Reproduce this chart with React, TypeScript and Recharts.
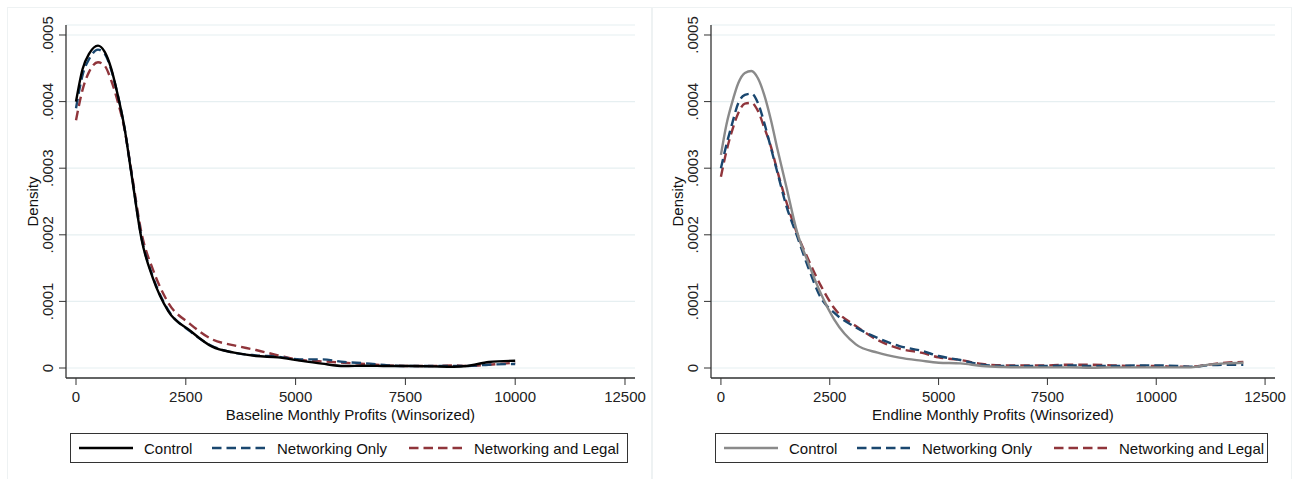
import { LineChart, Line, XAxis, YAxis, CartesianGrid, Label } from 'recharts';

// Kernel densities of monthly profits
const xTicks = [0, 2500, 5000, 7500, 10000, 12500];
const yTicks = [0, 0.0001, 0.0002, 0.0003, 0.0004, 0.0005];
const seriesNames = ['Control', 'Networking Only', 'Networking and Legal'];

const baselineProfit = [0, 150, 300, 500, 650, 800, 950, 1100, 1250, 1500, 1750, 2100, 2600, 3100, 3600, 4100, 4600, 5100, 5600, 6100, 6600, 7100, 7600, 8100, 8600, 8900, 9400, 10000];
const baselineControl = [0.0004, 0.000449, 0.000472, 0.000484, 0.000475, 0.00045, 0.00041, 0.000362, 0.000297, 0.000191, 0.000135, 0.0000855, 0.000056, 0.000032, 0.000023, 0.000018, 0.000016, 0.000011, 0.0000065, 0.000003, 0.0000035, 0.000003, 0.000003, 0.0000025, 0.000002, 0.000003, 0.000009, 0.000011];
const baselineNetOnly = [0.00039, 0.00044, 0.000464, 0.000478, 0.000472, 0.000448, 0.00041, 0.000362, 0.000298, 0.000193, 0.000137, 0.000087, 0.000055, 0.000033, 0.000023, 0.000019, 0.000017, 0.000013, 0.000013, 0.000009, 0.000007, 0.000004, 0.000003, 0.000003, 0.000003, 0.000003, 0.000005, 0.000006];
const baselineNetLegal = [0.000372, 0.000418, 0.000445, 0.000459, 0.000454, 0.000432, 0.0004, 0.00036, 0.0003, 0.0002, 0.000148, 0.000098, 0.000066, 0.000043, 0.000034, 0.000027, 0.000019, 0.000012, 0.00001, 0.000008, 0.000006, 0.000004, 0.000003, 0.000003, 0.000004, 0.000003, 0.000005, 0.000008];

const endlineProfit = [0, 125, 250, 400, 550, 700, 850, 1000, 1150, 1300, 1500, 1750, 2000, 2300, 2600, 3100, 3600, 4100, 4600, 5000, 5500, 6000, 6500, 7000, 7500, 8000, 8500, 9000, 9500, 10000, 10500, 10800, 11200, 11600, 12000];
const endlineControl = [0.00032, 0.000365, 0.000397, 0.000428, 0.000443, 0.000446, 0.000435, 0.000409, 0.000372, 0.000328, 0.000273, 0.000204, 0.000159, 0.000111, 0.000073, 0.0000355, 0.000023, 0.0000155, 0.000011, 0.000008, 0.000007, 0.000003, 0.0000015, 0.000001, 0.000001, 0.000001, 0.0000005, 0.000001, 0.000001, 0.000001, 0.000001, 0.000001, 0.000005, 0.000007, 0.000008];
const endlineNetOnly = [0.0003, 0.000335, 0.000365, 0.000398, 0.00041, 0.000412, 0.000398, 0.000367, 0.00033, 0.000293, 0.000244, 0.000198, 0.000152, 0.000105, 0.000083, 0.000061, 0.000045, 0.000033, 0.000026, 0.000018, 0.000012, 0.000005, 0.000003, 0.000003, 0.000003, 0.000004, 0.000003, 0.000003, 0.000004, 0.000004, 0.000003, 0.000002, 0.000004, 0.000005, 0.000005];
const endlineNetLegal = [0.000287, 0.000325, 0.000355, 0.000383, 0.000397, 0.000398, 0.000386, 0.00036, 0.000332, 0.000295, 0.00025, 0.000202, 0.000164, 0.000123, 0.00009, 0.000063, 0.000042, 0.000029, 0.000023, 0.000016, 0.000012, 0.000006, 0.000004, 0.000004, 0.000004, 0.000005, 0.000005, 0.000004, 0.000003, 0.000003, 0.000002, 0.000002, 0.000005, 0.000008, 0.000009];

const NAVY = '#1a476f';
const MAROON = '#90353b';
const AXIS = '#333';
const FONT = '"Liberation Sans", Arial, sans-serif';

const toRows = (xs: number[], a: number[], b: number[], c: number[]) =>
  xs.map((x, i) => ({ profit: x, control: a[i], netOnly: b[i], netLegal: c[i] }));

const fmtDensity = (v: number) => (v === 0 ? '0' : v.toFixed(4).replace(/^0/, ''));

function YTick(props: any) {
  const { x, y, payload } = props;
  return (
    <text x={x} y={y} transform={`rotate(-90 ${x} ${y})`} textAnchor="middle" fill="#222" fontSize={15} fontFamily={FONT}>
      {fmtDensity(payload.value)}
    </text>
  );
}

function LegendBox({ left, width, controlColor }: { left: number; width: number; controlColor: string }) {
  const items = [
    { name: seriesNames[0], color: controlColor, dash: undefined, w: 133 },
    { name: seriesNames[1], color: NAVY, dash: '9.5 5', w: 197 },
    { name: seriesNames[2], color: MAROON, dash: '9.5 5', w: 0 },
  ];
  return (
    <div style={{
      position: 'absolute', left, top: 433, width, height: 30, boxSizing: 'border-box',
      border: `1.5px solid ${AXIS}`, background: '#fff', display: 'flex', alignItems: 'center', paddingLeft: 8,
    }}>
      {items.map((it) => (
        <div key={it.name} style={{ display: 'flex', alignItems: 'center', width: it.w || undefined, flexShrink: 0 }}>
          <svg width={54} height={6} style={{ display: 'block' }}>
            <line x1={0} y1={3} x2={54} y2={3} stroke={it.color} strokeWidth={2.4} strokeDasharray={it.dash} />
          </svg>
          <span style={{ marginLeft: 11, fontSize: 15, color: '#111', fontFamily: FONT, whiteSpace: 'nowrap' }}>{it.name}</span>
        </div>
      ))}
    </div>
  );
}

function DensityPanel({ rows, xTitle, controlColor, width, rightMargin }: { rows: any[]; xTitle: string; controlColor: string; width: number; rightMargin: number }) {
  return (
    <LineChart width={width} height={479} data={rows} margin={{ top: 25, right: rightMargin, bottom: 56, left: 0 }}>
      <CartesianGrid horizontal vertical={false} stroke="#e6eff1" strokeWidth={1.2} />
      <XAxis
        dataKey="profit" type="number" domain={[-228, 12728]} ticks={xTicks} allowDataOverflow
        height={45} tickSize={7} tickMargin={6}
        stroke={AXIS} tickLine={{ stroke: AXIS }} axisLine={{ stroke: AXIS, strokeWidth: 1.3 }}
        tick={{ fill: '#222', fontSize: 15, fontFamily: FONT }}
      >
        <Label content={({ viewBox }: any) => (
          <text x={viewBox.x + viewBox.width / 2} y={viewBox.y + 42} textAnchor="middle" fill="#111" fontSize={15} fontFamily={FONT}>
            {xTitle}
          </text>
        )} />
      </XAxis>
      <YAxis
        type="number" domain={[-0.000015, 0.000515]} ticks={yTicks} allowDataOverflow
        width={66} tickSize={7} tickMargin={6}
        stroke={AXIS} tickLine={{ stroke: AXIS }} axisLine={{ stroke: AXIS, strokeWidth: 1.3 }}
        tick={<YTick />}
      >
        <Label content={({ viewBox }: any) => {
          const cx = viewBox.x + 38;
          const cy = viewBox.y + viewBox.height / 2;
          return (
            <text x={cx} y={cy} transform={`rotate(-90 ${cx} ${cy})`} textAnchor="middle" fill="#111" fontSize={15} fontFamily={FONT}>
              Density
            </text>
          );
        }} />
      </YAxis>
      <Line type="monotone" dataKey="netLegal" stroke={MAROON} strokeWidth={2.4} strokeDasharray="9.5 5" dot={false} isAnimationActive={false} />
      <Line type="monotone" dataKey="netOnly" stroke={NAVY} strokeWidth={2.4} strokeDasharray="9.5 5" dot={false} isAnimationActive={false} />
      <Line type="monotone" dataKey="control" stroke={controlColor} strokeWidth={2.4} dot={false} isAnimationActive={false} />
    </LineChart>
  );
}

export default function App() {
  const baselineRows = toRows(baselineProfit, baselineControl, baselineNetOnly, baselineNetLegal);
  const endlineRows = toRows(endlineProfit, endlineControl, endlineNetOnly, endlineNetLegal);

  return (
    <div style={{ position: 'absolute', left: 0, top: 0, width: 1292, height: 479, background: '#fff', overflow: 'hidden' }}>
      <div style={{ position: 'absolute', left: 7, top: 7, width: 643, height: 480, border: '1px solid #eef2f3' }} />
      <div style={{ position: 'absolute', left: 652, top: 7, width: 638, height: 480, border: '1px solid #eef2f3' }} />
      <div style={{ position: 'absolute', left: 0, top: 0 }}>
        <DensityPanel rows={baselineRows} xTitle="Baseline Monthly Profits (Winsorized)" controlColor="#000" width={650} rightMargin={15} />
      </div>
      <div style={{ position: 'absolute', left: 645, top: 0 }}>
        <DensityPanel rows={endlineRows} xTitle="Endline Monthly Profits (Winsorized)" controlColor="#8a8a8a" width={647} rightMargin={17} />
      </div>
      <LegendBox left={70} width={558} controlColor="#000" />
      <LegendBox left={715} width={553} controlColor="#8a8a8a" />
    </div>
  );
}
